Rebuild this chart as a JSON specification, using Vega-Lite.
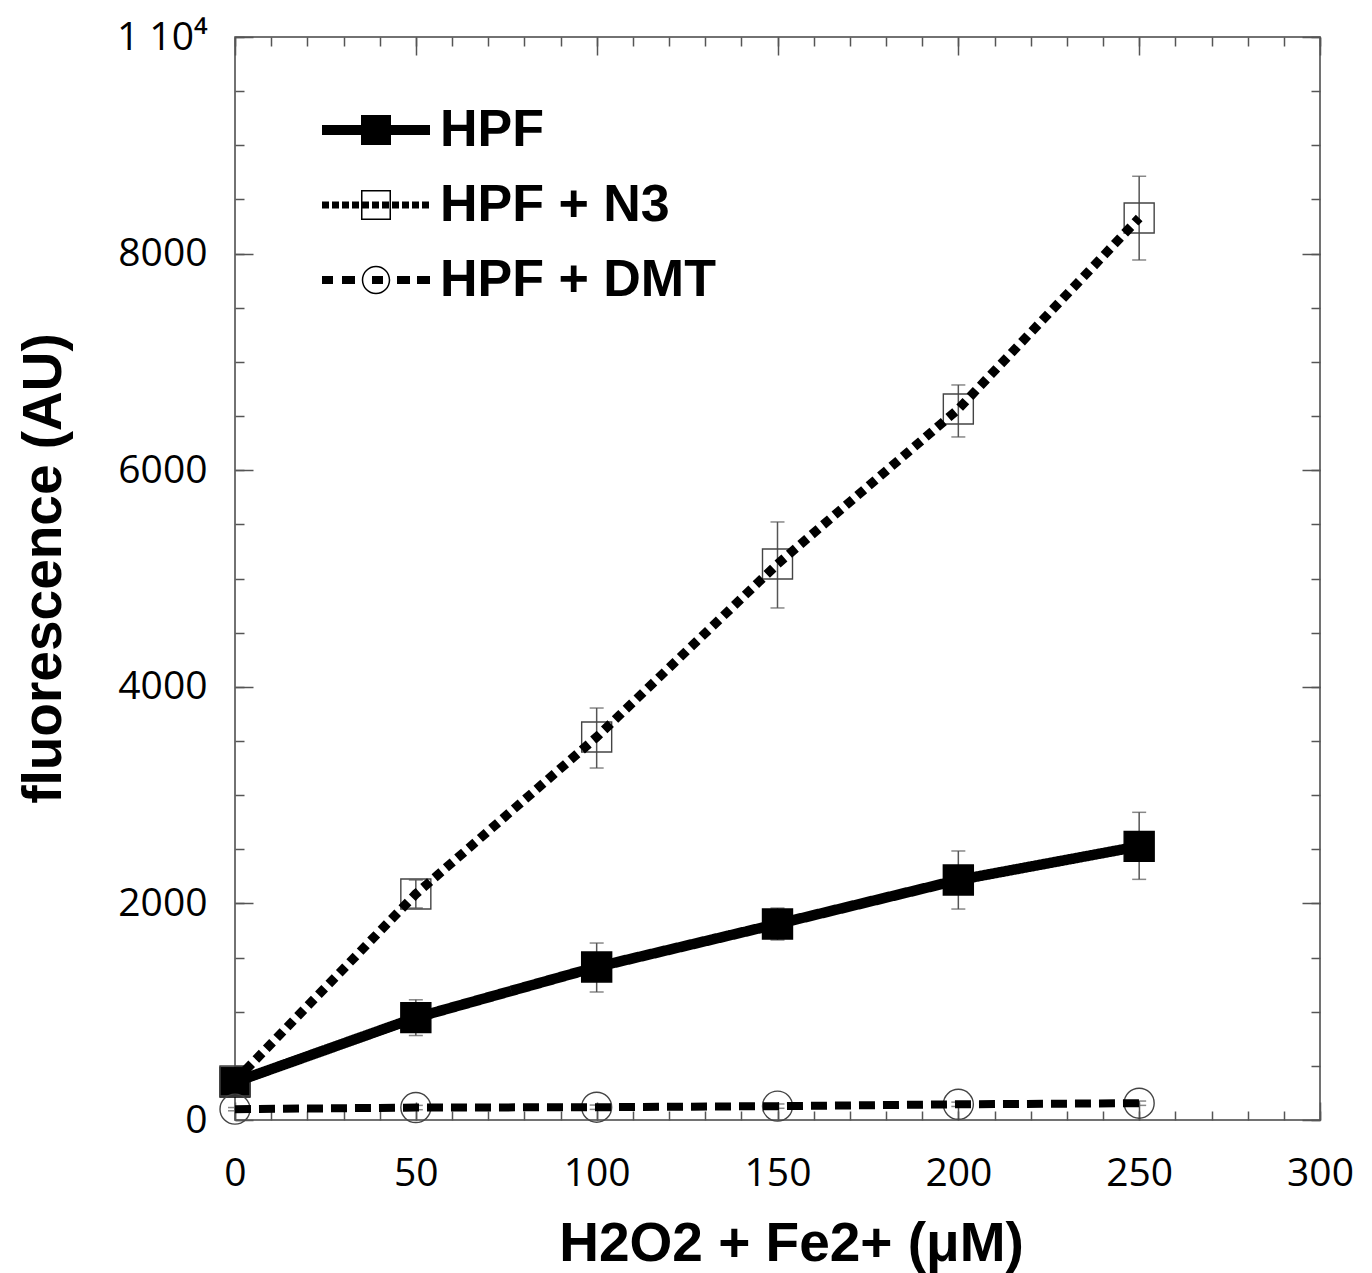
{
  "$schema": "https://vega.github.io/schema/vega-lite/v6.json",
  "width": 1085,
  "height": 1083,
  "autosize": {"type": "none"},
  "padding": {"left": 235, "top": 37, "right": 52, "bottom": 153},
  "background": "white",
  "config": {
    "view": {"stroke": "#444", "strokeWidth": 1.5},
    "axis": {
      "domain": false, "grid": false, "tickColor": "#555", "tickWidth": 1.5,
      "labelFont": "Open Sans", "labelFontSize": 39, "labelColor": "black",
      "titleFont": "Liberation Sans", "titleFontWeight": "bold", "titleFontSize": 55, "titleColor": "black",
      "labelFlush": false, "labelOverlap": false
    }
  },
  "data": {
    "values": [
      {"series": "HPF", "x": 0, "y": 350, "lo": 325, "hi": 375},
      {"series": "HPF", "x": 50, "y": 945, "lo": 780, "hi": 1110},
      {"series": "HPF", "x": 100, "y": 1413, "lo": 1182, "hi": 1634},
      {"series": "HPF", "x": 150, "y": 1810, "lo": 1662, "hi": 1957},
      {"series": "HPF", "x": 200, "y": 2216, "lo": 1948, "hi": 2484},
      {"series": "HPF", "x": 250, "y": 2527, "lo": 2222, "hi": 2841},
      {"series": "HPF + N3", "x": 0, "y": 360, "lo": 340, "hi": 380},
      {"series": "HPF + N3", "x": 50, "y": 2087, "lo": 1958, "hi": 2216},
      {"series": "HPF + N3", "x": 100, "y": 3536, "lo": 3250, "hi": 3804},
      {"series": "HPF + N3", "x": 150, "y": 5134, "lo": 4728, "hi": 5522},
      {"series": "HPF + N3", "x": 200, "y": 6565, "lo": 6307, "hi": 6787},
      {"series": "HPF + N3", "x": 250, "y": 8329, "lo": 7941, "hi": 8714},
      {"series": "HPF + DMT", "x": 0, "y": 100, "lo": 85, "hi": 115},
      {"series": "HPF + DMT", "x": 50, "y": 115, "lo": 95, "hi": 135},
      {"series": "HPF + DMT", "x": 100, "y": 118, "lo": 98, "hi": 138},
      {"series": "HPF + DMT", "x": 150, "y": 128, "lo": 108, "hi": 148},
      {"series": "HPF + DMT", "x": 200, "y": 145, "lo": 125, "hi": 165},
      {"series": "HPF + DMT", "x": 250, "y": 155, "lo": 135, "hi": 175}
    ]
  },
  "resolve": {"axis": {"x": "independent", "y": "independent"}, "scale": {"shape": "independent"}},
  "layer": [
    {
      "mark": {"type": "rule", "color": "#555", "strokeWidth": 1.5},
      "encoding": {
        "x": {"field": "x", "type": "quantitative", "scale": {"domain": [0, 300], "nice": false},
          "axis": {"orient": "bottom", "values": [0, 50, 100, 150, 200, 250, 300], "tickSize": -18, "labelPadding": 52, "format": "d",
            "title": "H2O2 + Fe2+ (μM)", "titleX": 556, "titlePadding": 24}},
        "y": {"field": "lo", "type": "quantitative", "scale": {"domain": [0, 10000], "nice": false},
          "axis": {"orient": "left", "values": [0, 2000, 4000, 6000, 8000, 10000], "tickSize": -18, "labelPadding": 46, "format": "d",
            "labelExpr": "datum.value === 10000 ? '1 10⁴' : datum.label",
            "title": "fluorescence (AU)", "titleY": 531, "titlePadding": 44}},
        "y2": {"field": "hi"}
      }
    },
    {
      "mark": {"type": "tick", "orient": "horizontal", "color": "#555", "size": 14, "thickness": 1.5},
      "encoding": {
        "x": {"field": "x", "type": "quantitative",
          "axis": {"orient": "bottom", "values": [0,10,20,30,40,50,60,70,80,90,100,110,120,130,140,150,160,170,180,190,200,210,220,230,240,250,260,270,280,290,300], "tickSize": -9, "labels": false, "title": null}},
        "y": {"field": "lo", "type": "quantitative",
          "axis": {"orient": "left", "values": [0,500,1000,1500,2000,2500,3000,3500,4000,4500,5000,5500,6000,6500,7000,7500,8000,8500,9000,9500,10000], "tickSize": -9, "labels": false, "title": null}}
      }
    },
    {
      "mark": {"type": "tick", "orient": "horizontal", "color": "#555", "size": 14, "thickness": 1.5},
      "encoding": {
        "x": {"field": "x", "type": "quantitative",
          "axis": {"orient": "top", "values": [0, 50, 100, 150, 200, 250, 300], "tickSize": -18, "labels": false, "title": null}},
        "y": {"field": "hi", "type": "quantitative",
          "axis": {"orient": "right", "values": [0, 2000, 4000, 6000, 8000, 10000], "tickSize": -18, "labels": false, "title": null}}
      }
    },
    {
      "mark": {"type": "point", "filled": true, "size": 900, "strokeWidth": 1.4, "opacity": 1},
      "encoding": {
        "x": {"field": "x", "type": "quantitative",
          "axis": {"orient": "top", "values": [0,10,20,30,40,50,60,70,80,90,100,110,120,130,140,150,160,170,180,190,200,210,220,230,240,250,260,270,280,290,300], "tickSize": -9, "labels": false, "title": null}},
        "y": {"field": "y", "type": "quantitative",
          "axis": {"orient": "right", "values": [0,500,1000,1500,2000,2500,3000,3500,4000,4500,5000,5500,6000,6500,7000,7500,8000,8500,9000,9500,10000], "tickSize": -9, "labels": false, "title": null}},
        "shape": {"field": "series", "type": "nominal", "sort": ["HPF", "HPF + N3", "HPF + DMT"], "scale": {"range": ["square", "square", "circle"]}, "legend": null},
        "fill": {"field": "series", "type": "nominal", "sort": ["HPF", "HPF + N3", "HPF + DMT"], "scale": {"range": ["black", "transparent", "transparent"]}, "legend": null},
        "stroke": {"field": "series", "type": "nominal", "sort": ["HPF", "HPF + N3", "HPF + DMT"], "scale": {"range": ["black", "#444", "#444"]}, "legend": null}
      }
    },
    {
      "mark": {"type": "line", "color": "black"},
      "encoding": {
        "x": {"field": "x", "type": "quantitative", "axis": null},
        "y": {"field": "y", "type": "quantitative", "axis": null},
        "strokeWidth": {"field": "series", "type": "ordinal", "sort": ["HPF", "HPF + N3", "HPF + DMT"], "scale": {"range": [10.5, 8, 8]}, "legend": null},
        "strokeDash": {"field": "series", "type": "nominal", "sort": ["HPF", "HPF + N3", "HPF + DMT"],
          "scale": {"range": [[1, 0], [9, 6], [16, 8]]}, "legend": null}
      }
    },
    {
      "mark": {"type": "point", "filled": true, "color": "black", "opacity": 0, "strokeWidth": 0},
      "encoding": {
        "x": {"field": "x", "type": "quantitative", "axis": null},
        "y": {"field": "y", "type": "quantitative", "axis": null},
        "shape": {"field": "series", "type": "nominal",
          "scale": {"domain": ["HPF", "HPF + N3", "HPF + DMT"], "range": [
            "M-3.6,-0.333H3.6V0.333H-3.6Z M-1,-1H1V1H-1Z",
            "M-3.6,-0.233H-3.133V0.233H-3.6Z M-2.933,-0.233H-2.467V0.233H-2.933Z M-2.267,-0.233H-1.8V0.233H-2.267Z M-1.6,-0.233H-1.133V0.233H-1.6Z M-0.933,-0.233H-0.467V0.233H-0.933Z M-0.267,-0.233H0.2V0.233H-0.267Z M0.4,-0.233H0.867V0.233H0.4Z M1.067,-0.233H1.533V0.233H1.067Z M1.733,-0.233H2.2V0.233H1.733Z M2.4,-0.233H2.867V0.233H2.4Z M3.067,-0.233H3.533V0.233H3.067Z M-1,-1H1V1H-1Z M-0.9,-0.9V0.9H0.9V-0.9Z",
            "M-3.6,-0.267H-2.867V0.267H-3.6Z M-2.267,-0.267H-1.4V0.267H-2.267Z M-0.267,-0.267H0.467V0.267H-0.267Z M1.4,-0.267H2.267V0.267H1.4Z M2.733,-0.267H3.6V0.267H2.733Z M-0.95,0A0.95,0.95,0,1,1,0.95,0A0.95,0.95,0,1,1,-0.95,0Z M-0.85,0A0.85,0.85,0,1,0,0.85,0A0.85,0.85,0,1,0,-0.85,0Z"
          ]},
          "legend": {
            "orient": "none", "legendX": 115, "legendY": 67, "title": null, "padding": 0,
            "labelFont": "Liberation Sans", "labelFontWeight": "bold", "labelFontSize": 52, "labelColor": "black",
            "labelOffset": 38, "labelLimit": 600, "rowPadding": 23,
            "symbolSize": 900, "symbolStrokeWidth": 0, "symbolOpacity": 1, "symbolFillColor": "black", "symbolStrokeColor": "transparent"
          }
        }
      }
    }
  ]
}
